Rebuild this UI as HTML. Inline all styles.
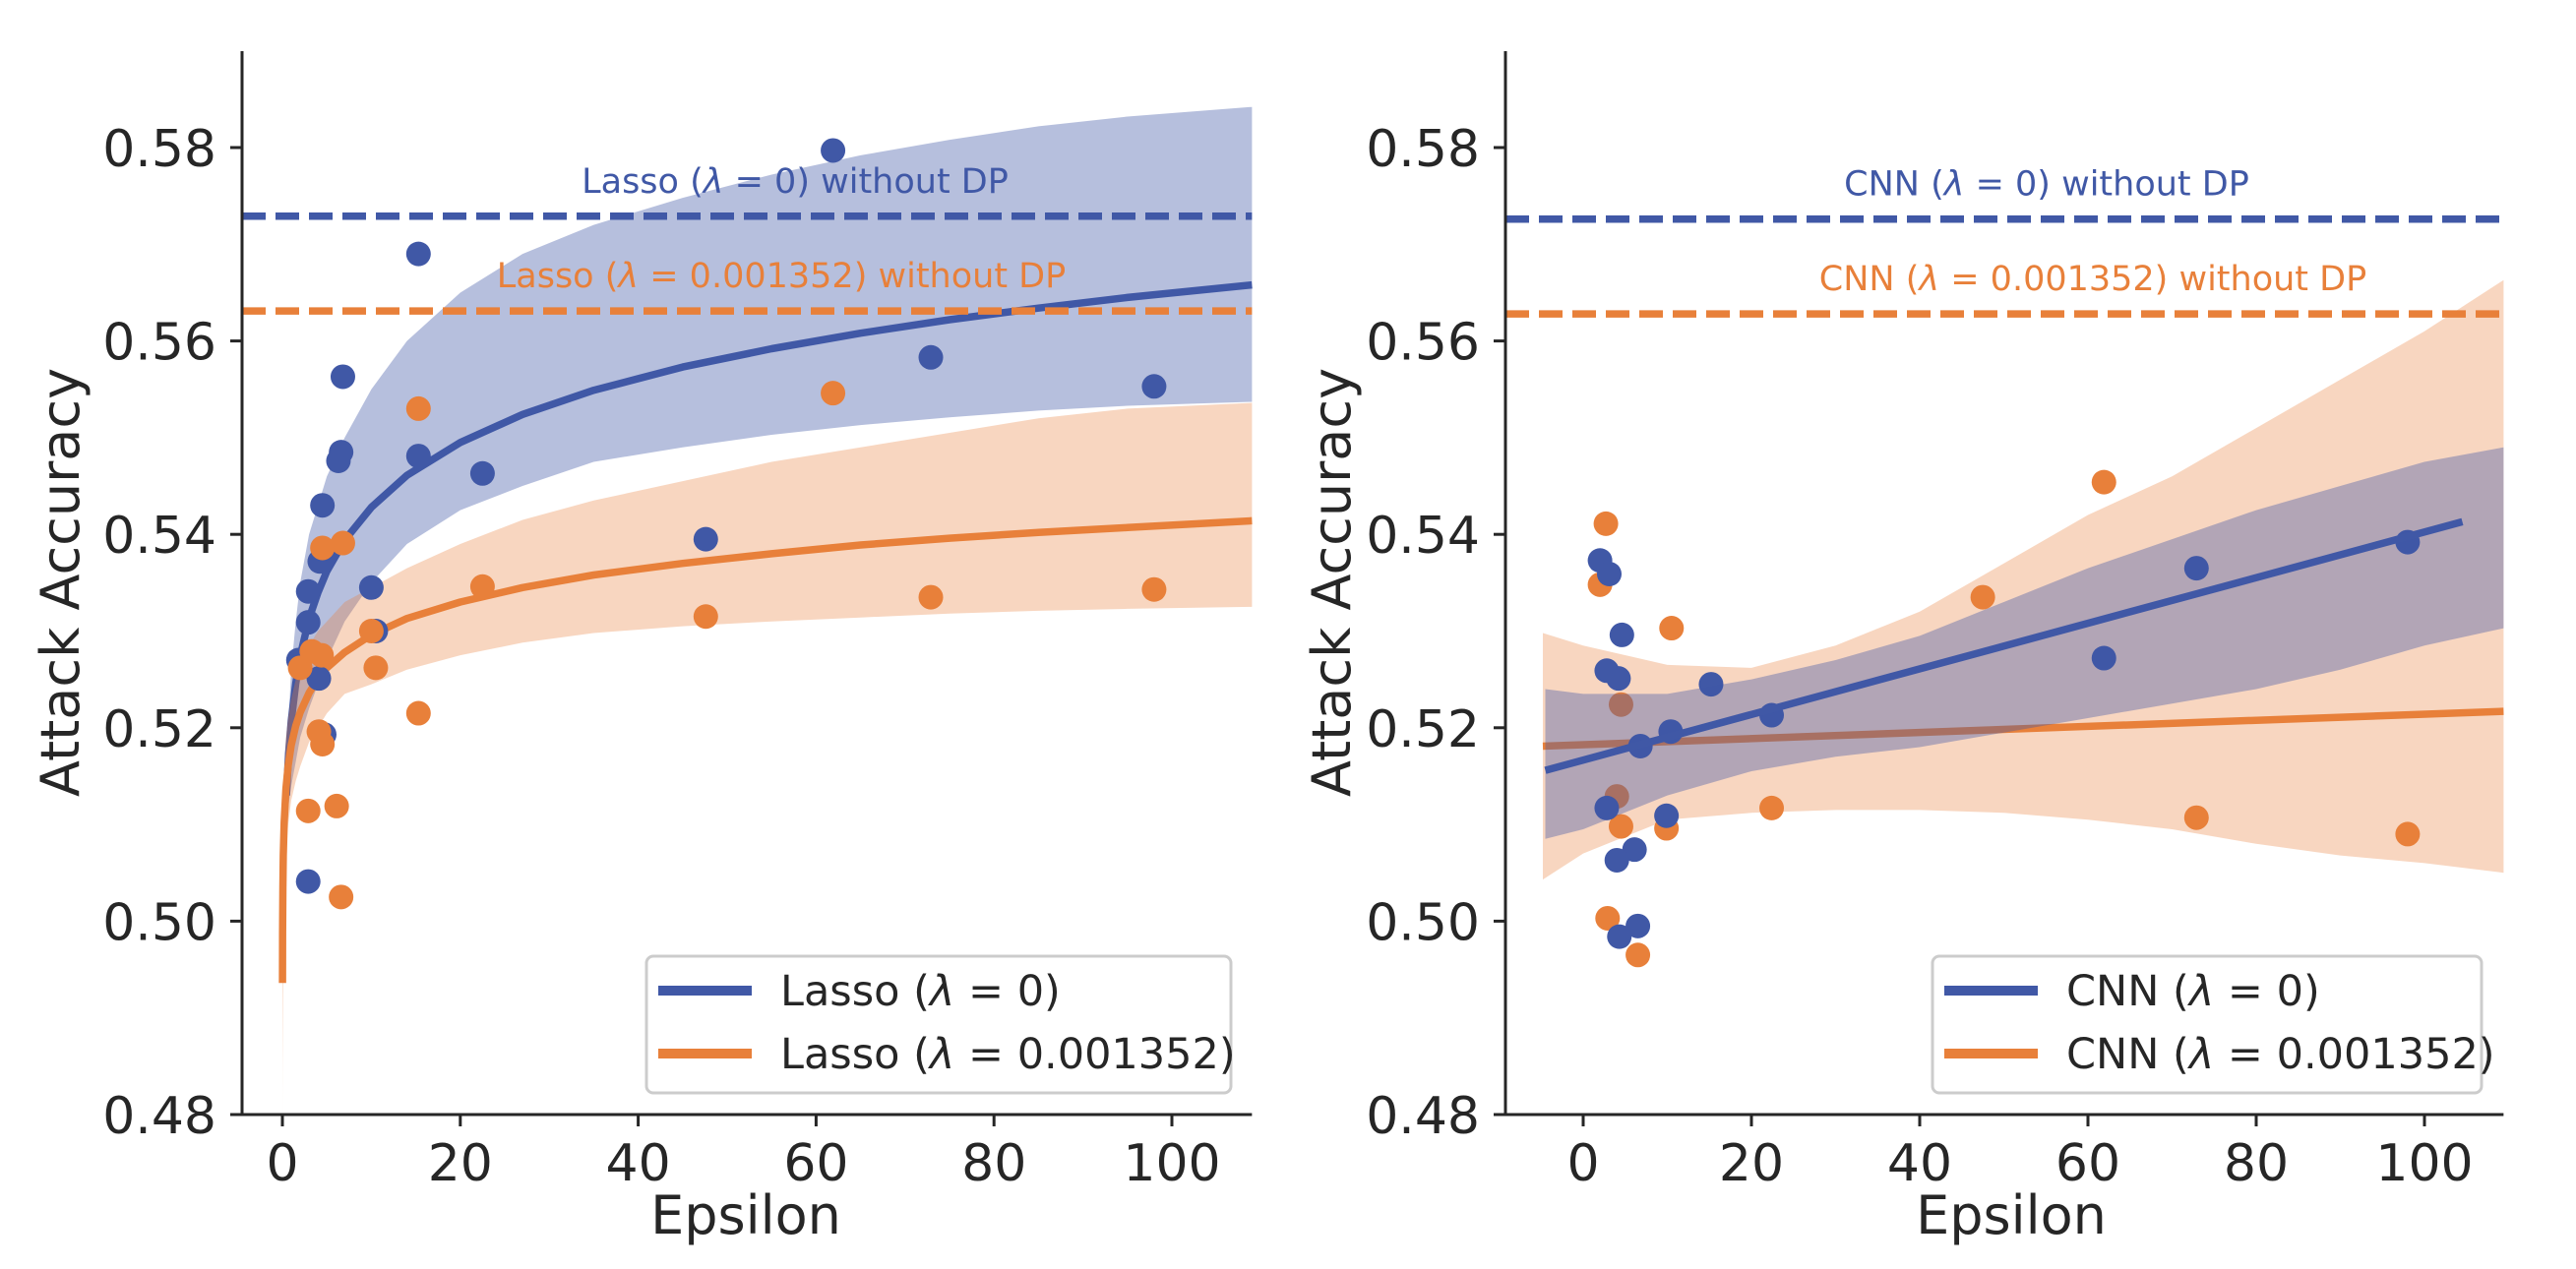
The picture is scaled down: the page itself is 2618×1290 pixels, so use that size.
<!DOCTYPE html>
<html><head><meta charset="utf-8">
<style>
html,body{margin:0;padding:0;background:#fff;}
svg{display:block;font-family:"DejaVu Sans","Liberation Sans",sans-serif;}
</style></head>
<body>
<svg id="chart" width="2618" height="1290" viewBox="0 0 2618 1290" xmlns="http://www.w3.org/2000/svg"></svg>
<script>
// ---------- data: left panel (Lasso) ----------
const lassoBlueX = [61.9,15.3,6.8,6.6,6.3,15.3,22.5,4.5,4.2,2.9,2.9,10.0,10.5,4.1,4.7,1.8,2.9,47.6,72.9,98.0];
const lassoBlueY = [0.5797,0.569,0.5563,0.5485,0.5476,0.5481,0.5463,0.543,0.5372,0.5341,0.5309,0.5345,0.530,0.5251,0.5193,0.527,0.5041,0.5395,0.5583,0.5553];
const lassoOrangeX = [15.3,61.9,4.5,6.8,22.5,47.6,72.9,98.0,10.0,10.5,2.0,4.4,3.3,15.3,4.1,4.5,2.9,6.1,6.6];
const lassoOrangeY = [0.553,0.5546,0.5386,0.5391,0.5346,0.5315,0.5335,0.5343,0.530,0.5262,0.5262,0.5275,0.5279,0.5215,0.5196,0.5183,0.5114,0.5119,0.5025];
const lassoBlueFitX = [0.45,0.7,1,1.5,2,3,4,5,7,10,14,20,27,35,45,55,65,75,85,95,109];
const lassoBlueFitY = [0.5130,0.5173,0.5207,0.5246,0.5274,0.5313,0.5340,0.5362,0.5394,0.5428,0.5461,0.5495,0.5524,0.5549,0.5573,0.5592,0.5608,0.5622,0.5634,0.5645,0.5658];
const lassoBlueHi = [0.515,0.521,0.526,0.531,0.535,0.540,0.543,0.546,0.550,0.555,0.560,0.565,0.569,0.572,0.5748,0.5772,0.5792,0.5808,0.5822,0.5832,0.5842];
const lassoBlueLo = [0.510,0.512,0.514,0.5165,0.519,0.522,0.5245,0.527,0.531,0.535,0.539,0.5425,0.545,0.5475,0.549,0.5503,0.5513,0.5521,0.5528,0.5533,0.5537];
const lassoOrangeFitX = [0.007,0.02,0.05,0.1,0.2,0.4,0.65,1,1.5,2,3,4,5,7,10,14,20,27,35,45,55,65,75,85,95,109];
const lassoOrangeFitY = [0.4936,0.4988,0.5034,0.5068,0.5102,0.5137,0.5161,0.5182,0.5202,0.5216,0.5236,0.5251,0.5262,0.5278,0.5296,0.5313,0.5330,0.5345,0.5358,0.5370,0.5380,0.5389,0.5396,0.5402,0.5407,0.5414];
const lassoOrangeHi = [0.50,0.503,0.507,0.511,0.515,0.519,0.521,0.523,0.525,0.5265,0.5285,0.530,0.531,0.533,0.5345,0.5365,0.539,0.5415,0.5435,0.5455,0.5475,0.549,0.5505,0.552,0.553,0.5536];
const lassoOrangeLo = [0.48,0.485,0.49,0.496,0.502,0.507,0.510,0.5125,0.5145,0.516,0.5185,0.520,0.5215,0.5235,0.5245,0.526,0.5275,0.5288,0.5298,0.5305,0.531,0.5314,0.5318,0.5321,0.5323,0.5325];
const lassoRefBlue = 0.5729, lassoRefOrange = 0.5631;

// ---------- data: right panel (CNN) ----------
const cnnBlueX = [2.0,3.1,4.6,2.8,4.2,6.8,10.4,15.2,22.4,2.8,9.9,6.1,4.0,4.3,6.5,61.9,72.9,98.0];
const cnnBlueY = [0.5373,0.5359,0.5296,0.5259,0.5251,0.5181,0.5196,0.5245,0.5213,0.5117,0.5109,0.5074,0.5063,0.4984,0.4995,0.5272,0.5365,0.5392];
const cnnOrangeX = [2.7,2.0,10.5,4.5,4.0,4.5,9.9,22.4,47.5,61.9,72.9,98.0,2.9,6.5];
const cnnOrangeY = [0.5411,0.5348,0.5303,0.5224,0.5129,0.5098,0.5096,0.5117,0.5335,0.5454,0.5107,0.5090,0.5003,0.4965];
const cnnBlueFitX = [-4.5,104.5];
const cnnBlueFitY = [0.5156,0.5413];
const cnnBlueBandX = [-4.5,0,10,20,30,40,50,60,70,80,90,100,109.4];
const cnnBlueHi = [0.524,0.5235,0.5235,0.525,0.527,0.5295,0.533,0.5365,0.5395,0.5425,0.545,0.5475,0.549];
const cnnBlueLo = [0.5085,0.5095,0.513,0.5155,0.517,0.518,0.5195,0.521,0.5225,0.524,0.526,0.5285,0.5303];
const cnnOrangeFitX = [-4.8,109.4];
const cnnOrangeFitY = [0.5181,0.5217];
const cnnOrangeBandX = [-4.8,0,10,20,30,40,50,60,70,80,90,100,109.4];
const cnnOrangeHi = [0.5298,0.5285,0.5265,0.5262,0.5285,0.532,0.537,0.542,0.546,0.551,0.556,0.561,0.5663];
const cnnOrangeLo = [0.5043,0.507,0.5105,0.5112,0.5115,0.5115,0.5112,0.5105,0.5095,0.508,0.5068,0.506,0.505];
const cnnRefBlue = 0.5726, cnnRefOrange = 0.5628;

const xTicks = [0,20,40,60,80,100];
const yTicks = [0.48,0.50,0.52,0.54,0.56,0.58];
const yTickLabels = ["0.48","0.50","0.52","0.54","0.56","0.58"];

const BLUE = "#4058a6", ORANGE = "#e8803a", INK = "#262626";
const NS = "http://www.w3.org/2000/svg";
const svg = document.getElementById("chart");
function mk(tag, attrs, parent){ const e=document.createElementNS(NS,tag); for(const k in attrs) e.setAttribute(k,attrs[k]); (parent||svg).appendChild(e); return e; }

function panel(p){
  const g = mk("g",{});
  
  
  const sx = v => p.x0 + v * (p.x100 - p.x0) / 100;
  const sy = v => 1133 - (v - 0.48) * 9830;
  const left = p.spineX, right = sx(p.xmax), top = 52, bottom = 1133;
  const line = (xs, ys) => xs.map((x,i)=>(i?"L":"M")+sx(x).toFixed(1)+","+sy(ys[i]).toFixed(1)).join("");
  const band = (xs, hi, lo) => line(xs,hi) + xs.slice().reverse().map((x,i)=>"L"+sx(x).toFixed(1)+","+sy(lo[lo.length-1-i]).toFixed(1)).join("") + "Z";

  function points(key, color, xs, ys){
    for(let i=0;i<xs.length;i++){
      const c = mk("circle",{cx:sx(xs[i]),cy:sy(ys[i]),r:12.5,fill:color},g);
      
      
    }
  }
  function fit(key, color, bx, hi, lo, fx, fy, alpha){
    const b = mk("path",{d:band(bx,hi,lo),fill:color,"fill-opacity":alpha},g);
    
    
    const l = mk("path",{d:line(fx,fy),fill:"none",stroke:color,"stroke-width":7.5,"stroke-linejoin":"round"},g);
    
    
  }
  const kO = p.key+"-orange", kB = p.key+"-blue";
  if(p.pointsOnTop){
    fit(kB, BLUE, p.bbX, p.bHi, p.bLo, p.bfX, p.bfY, 0.38);
    fit(kO, ORANGE, p.obX, p.oHi, p.oLo, p.ofX, p.ofY, 0.32);
    points(kB, BLUE, p.bX, p.bY);
    points(kO, ORANGE, p.oX, p.oY);
  } else {
    points(kO, ORANGE, p.oX, p.oY);
    fit(kO, ORANGE, p.obX, p.oHi, p.oLo, p.ofX, p.ofY, 0.32);
    points(kB, BLUE, p.bX, p.bY);
    fit(kB, BLUE, p.bbX, p.bHi, p.bLo, p.bfX, p.bfY, 0.38);
  }

  [[p.refB, BLUE, "blue", p.txtB],[p.refO, ORANGE, "orange", p.txtO]].forEach(([v,c,k,t])=>{
    const d = mk("line",{x1:left,x2:right,y1:sy(v),y2:sy(v),stroke:c,"stroke-width":7.5,"stroke-dasharray":"24 10"},g);
    
    
    const tx = mk("text",{x:t[0],y:sy(v)-24,"text-anchor":"middle","font-size":35,fill:c},g);
    tx.innerHTML = t[1]+' (<tspan font-style="italic">λ</tspan> = '+t[2]+') without DP';
    
    
  });

  const ax = mk("path",{d:`M${left},${top}L${left},${bottom}L${right},${bottom}`,fill:"none",stroke:INK,"stroke-width":3},g);
  
  
  xTicks.forEach(t=>{
    const X = sx(t);
    const tk = mk("line",{x1:X,x2:X,y1:bottom,y2:bottom+12,stroke:INK,"stroke-width":3},g);
    
    
    const tl = mk("text",{x:X,y:1200,"text-anchor":"middle","font-size":52,fill:INK},g);
    tl.textContent = t;
    
    
  });
  yTicks.forEach((t,i)=>{
    const Y = sy(t);
    const tk = mk("line",{x1:left-12,x2:left,y1:Y,y2:Y,stroke:INK,"stroke-width":3},g);
    
    
    const tl = mk("text",{x:left-26,y:Y+19,"text-anchor":"end","font-size":52,fill:INK},g);
    tl.textContent = yTickLabels[i];
    
    
  });
  const xl = mk("text",{x:p.xlabX,y:1254,"text-anchor":"middle","font-size":54,fill:INK},g);
  xl.textContent = "Epsilon";
  
  
  const yl = mk("text",{x:0,y:0,"text-anchor":"middle","font-size":54,fill:INK,transform:`translate(${p.ylabX},592) rotate(-90)`},g);
  yl.textContent = "Attack Accuracy";
  
  

  const lg = mk("g",{},g);
  
  
  mk("rect",{x:p.legX,y:972,width:p.legW,height:139,rx:7,fill:"#fff","fill-opacity":0.85,stroke:"#cccccc","stroke-width":3},lg);
  [[BLUE,"0",1007],[ORANGE,"0.001352",1071]].forEach(([c,v,y])=>{
    const ll = mk("line",{x1:p.legX+12,x2:p.legX+107,y1:y,y2:y,stroke:c,"stroke-width":10},lg);
    
    
    const lt = mk("text",{x:p.legX+136,y:y+15,"font-size":43,fill:INK},lg);
    lt.innerHTML = p.label+' (<tspan font-style="italic">λ</tspan> = '+v+')';
    
    
  });
}

panel({name:"lasso-panel",key:"lasso",label:"Lasso",x0:287,x100:1191,spineX:246,xmax:109,pointsOnTop:true,
  bX:lassoBlueX,bY:lassoBlueY,bbX:lassoBlueFitX,bHi:lassoBlueHi,bLo:lassoBlueLo,bfX:lassoBlueFitX,bfY:lassoBlueFitY,
  oX:lassoOrangeX,oY:lassoOrangeY,obX:lassoOrangeFitX,oHi:lassoOrangeHi,oLo:lassoOrangeLo,ofX:lassoOrangeFitX,ofY:lassoOrangeFitY,
  refB:lassoRefBlue,refO:lassoRefOrange,txtB:[808,"Lasso","0"],txtO:[794,"Lasso","0.001352"],
  xlabX:758,ylabX:80,legX:657,legW:594});
panel({name:"cnn-panel",key:"cnn",label:"CNN",x0:1609,x100:2464,spineX:1530,xmax:109.4,pointsOnTop:false,
  bX:cnnBlueX,bY:cnnBlueY,bbX:cnnBlueBandX,bHi:cnnBlueHi,bLo:cnnBlueLo,bfX:cnnBlueFitX,bfY:cnnBlueFitY,
  oX:cnnOrangeX,oY:cnnOrangeY,obX:cnnOrangeBandX,oHi:cnnOrangeHi,oLo:cnnOrangeLo,ofX:cnnOrangeFitX,ofY:cnnOrangeFitY,
  refB:cnnRefBlue,refO:cnnRefOrange,txtB:[2080,"CNN","0"],txtO:[2127,"CNN","0.001352"],
  xlabX:2044,ylabX:1372,legX:1964,legW:558});
</script>
</body></html>
